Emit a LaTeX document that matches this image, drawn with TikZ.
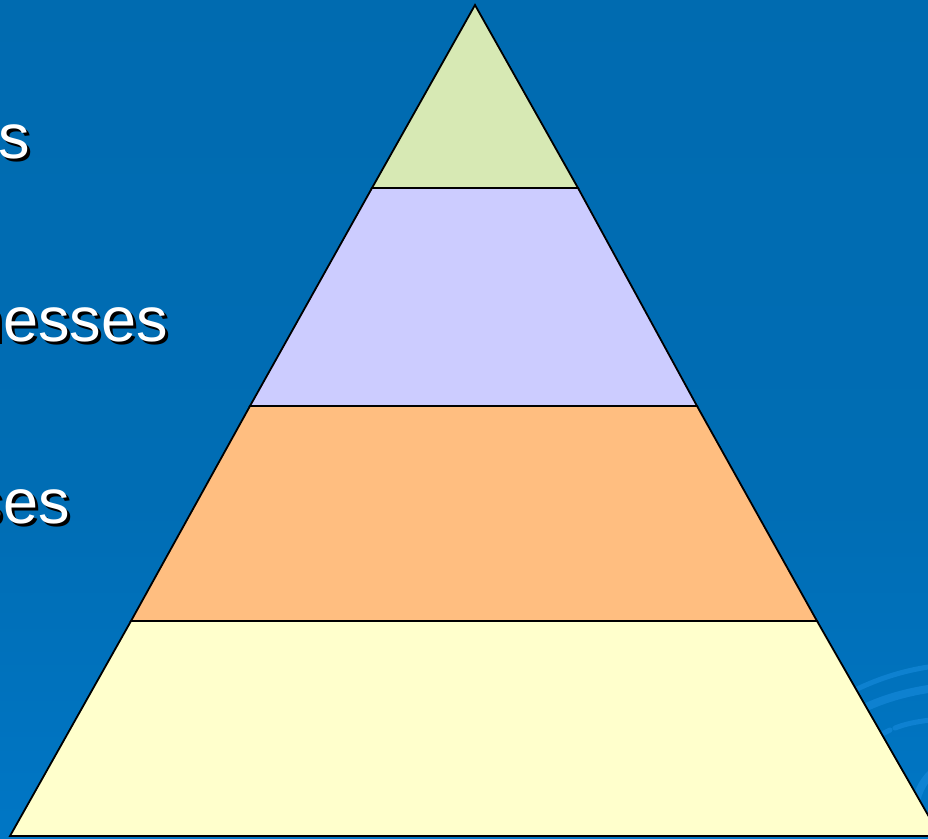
\documentclass[tikz,border=0pt]{standalone}
\usepackage{fontspec}
\setmainfont{Liberation Sans}
\usepackage{xcolor}
\definecolor{bgtop}{HTML}{0069AD}
\definecolor{bgmid}{HTML}{006DB4}
\definecolor{bgbot}{HTML}{0082DA}
\definecolor{swirlblue}{HTML}{1A8EE0}
\definecolor{tiergreen}{HTML}{D7E9B4}
\definecolor{tierlilac}{HTML}{CCCCFF}
\definecolor{tierorange}{HTML}{FFBE80}
\definecolor{tieryellow}{HTML}{FFFFCC}
\pgfdeclareverticalshading{bgshade}{100bp}{color(0bp)=(bgbot); color(45bp)=(bgmid); color(100bp)=(bgtop)}

\begin{document}
\begin{tikzpicture}[
  x=1pt, y=-1pt,
  tier/.style={draw=black, line width=1.8pt, line join=miter},
  swirl/.style={draw=swirlblue, opacity=0.55, line cap=round},
  word/.style={anchor=base east, inner sep=0pt, text=white,
               font=\fontsize{63}{72}\selectfont},
  wordshadow/.style={word, text=black},
]
\useasboundingbox (0,0) rectangle (928,838);
\clip (0,0) rectangle (928,838);
\shade[shading=bgshade] (0,0) rectangle (928,838);

% background swirl, lower right
\draw[swirl, line width=5pt] (935,666) .. controls (905,670) and (880,678) .. (855,690);
\draw[swirl, line width=8pt] (935,688) .. controls (905,692) and (880,700) .. (860,710);
\draw[swirl, line width=5pt] (930,720) .. controls (915,722) and (905,724) .. (895,728);
\draw[swirl, line width=5pt] (890,730) -- (878,736);
\draw[swirl, line width=8pt] (935,770) .. controls (925,778) and (918,790) .. (915,805);

% pyramid corners
\coordinate (apex) at (475,5);
\coordinate (l1) at (372,188);  \coordinate (r1) at (578,188);
\coordinate (l2) at (250,406);  \coordinate (r2) at (697,406);
\coordinate (l3) at (131,621);  \coordinate (r3) at (817,621);
\coordinate (l4) at (10,836);   \coordinate (r4) at (940,836);

\filldraw[tier, fill=tieryellow] (l3) -- (r3) -- (r4) -- (l4) -- cycle;
\filldraw[tier, fill=tierorange] (l2) -- (r2) -- (r3) -- (l3) -- cycle;
\filldraw[tier, fill=tierlilac]  (l1) -- (r1) -- (r2) -- (l2) -- cycle;
\filldraw[tier, fill=tiergreen]  (apex) -- (r1) -- (l1) -- cycle;

% labels cut at the left edge
\node[wordshadow] (shadowA) at (33,161) {rs};
\node[word] (wordA) at (30,158) {rs};
\node[wordshadow] (shadowB) at (171,344) {nesses};
\node[word] (wordB) at (168,341) {nesses};
\node[wordshadow] (shadowC) at (73,526) {ses};
\node[word] (wordC) at (70,523) {ses};
\end{tikzpicture}
\end{document}
